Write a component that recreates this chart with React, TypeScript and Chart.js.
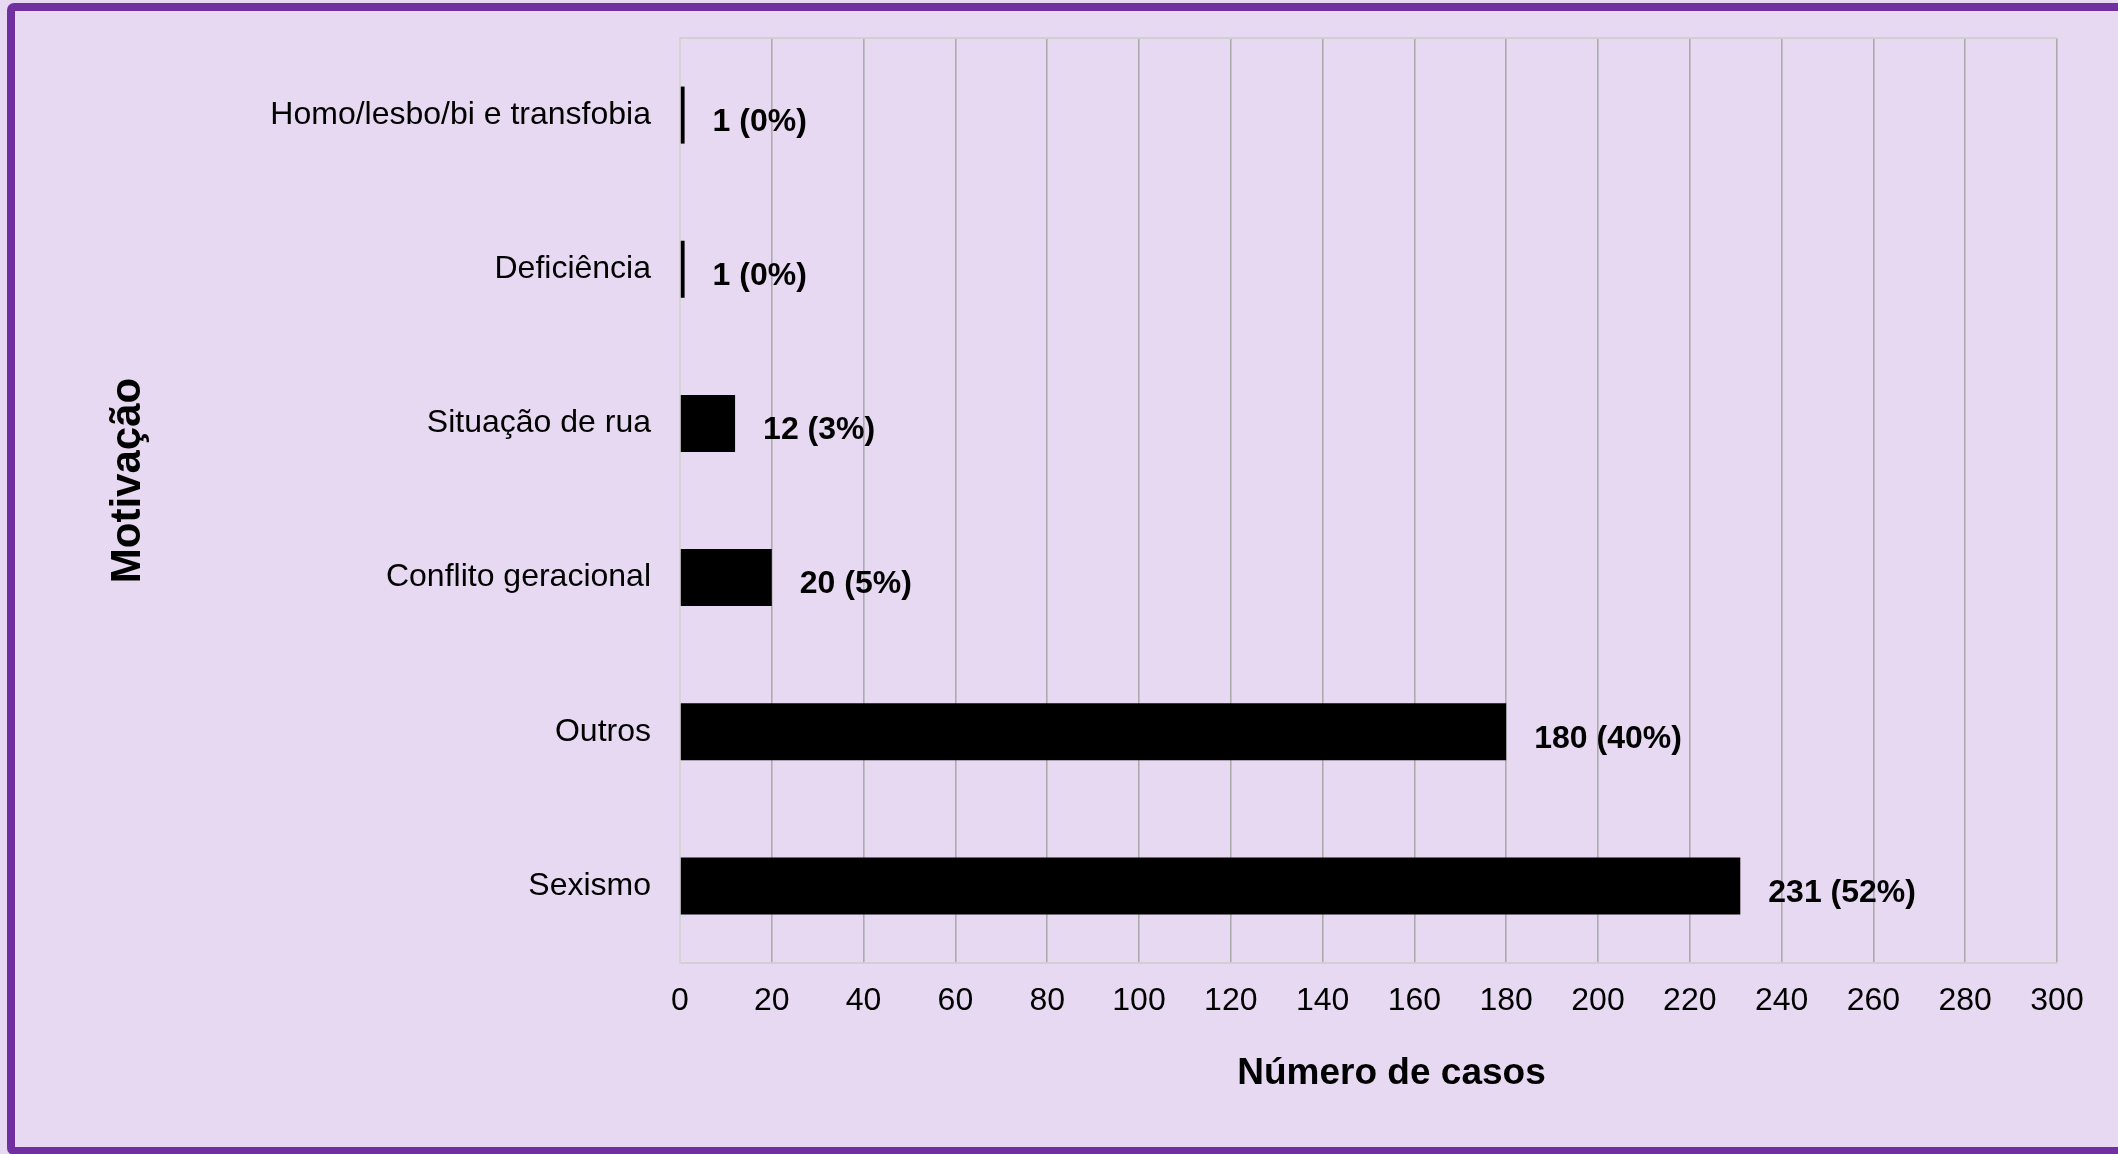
import React, { useEffect, useRef } from "react";
import { Chart, registerables } from "chart.js";

Chart.register(...registerables);

const categories = [
  "Homo/lesbo/bi e transfobia",
  "Deficiência",
  "Situação de rua",
  "Conflito geracional",
  "Outros",
  "Sexismo",
];
const caseCounts = [1, 1, 12, 20, 180, 231];
const casePercents = [0, 0, 3, 5, 40, 52];
const xTickMin = 0;
const xTickMax = 300;
const xTickStep = 20;
const yAxisTitle = "Motivação";
const xAxisTitle = "Número de casos";

const FONT = '"Liberation Sans", Arial, Helvetica, sans-serif';
const BG = "#E7D9F1";
const PURPLE = "#7030A0";
const W = 2118;
const H = 1154;

const labelsPlugin = {
  id: "customLabels",
  afterDatasetsDraw(chart: any) {
    const ctx = chart.ctx;
    const meta = chart.getDatasetMeta(0);
    ctx.save();
    ctx.font = `bold 32px ${FONT}`;
    ctx.fillStyle = "#000000";
    ctx.textAlign = "left";
    ctx.textBaseline = "middle";
    meta.data.forEach((el: any, i: number) => {
      const txt = `${caseCounts[i]} (${casePercents[i]}%)`;
      ctx.fillText(txt, el.x + 28, el.y + 7);
    });
    ctx.restore();
  },
  afterDraw(chart: any) {
    const ctx = chart.ctx;
    const a = chart.chartArea;
    ctx.save();
    // top edge of plot area
    ctx.strokeStyle = "#D0D0D0";
    ctx.lineWidth = 2;
    ctx.beginPath();
    ctx.moveTo(a.left, a.top);
    ctx.lineTo(a.right, a.top);
    ctx.stroke();
    // axis titles
    ctx.fillStyle = "#000000";
    ctx.textAlign = "center";
    ctx.textBaseline = "middle";
    ctx.font = `bold 37px ${FONT}`;
    ctx.fillText(xAxisTitle, (a.left + a.right) / 2 + 23, a.bottom + 111);
    ctx.translate(128, (a.top + a.bottom) / 2 - 20);
    ctx.rotate(-Math.PI / 2);
    ctx.font = `bold 42px ${FONT}`;
    ctx.fillText(yAxisTitle, 0, 0);
    ctx.restore();
  },
};

export default function App() {
  const canvasRef = useRef<HTMLCanvasElement | null>(null);

  useEffect(() => {
    const canvas = canvasRef.current;
    if (!canvas) return;
    const chart = new Chart(canvas, {
      type: "bar",
      data: {
        labels: categories,
        datasets: [
          {
            data: caseCounts,
            backgroundColor: "#000000",
            borderWidth: 0,
            barPercentage: 0.37,
            categoryPercentage: 1,
          },
        ],
      },
      options: {
        indexAxis: "y",
        responsive: false,
        animation: false,
        devicePixelRatio: 1,
        layout: { padding: { left: 0, top: 38, right: 61, bottom: 0 } },
        plugins: {
          legend: { display: false },
          tooltip: { enabled: false },
          title: { display: false },
        },
        scales: {
          x: {
            type: "linear",
            min: xTickMin,
            max: xTickMax,
            ticks: {
              stepSize: xTickStep,
              padding: 19,
              color: "#000000",
              font: { family: FONT, size: 32 },
              maxRotation: 0,
              autoSkip: false,
            },
            grid: {
              display: true,
              drawTicks: false,
              color: (c: any) => (c.tick && c.tick.value === 0 ? "#D4D4D4" : "#ABABAB"),
              lineWidth: 1.6,
            },
            border: { display: true, color: "#D0D0D0", width: 2 },
            afterFit: (scale: any) => {
              scale.height = 191;
            },
          },
          y: {
            ticks: {
              padding: 29,
              color: "#000000",
              font: { family: FONT, size: 32 },
              autoSkip: false,
            },
            grid: { display: false, drawTicks: false },
            border: { display: true, color: "#D4D4D4", width: 2 },
            afterFit: (scale: any) => {
              scale.width = 680;
              scale.paddingTop = 0;
              scale.paddingBottom = 0;
            },
          },
        },
      },
      plugins: [labelsPlugin],
    });
    return () => {
      chart.destroy();
    };
  }, []);

  return (
    <div
      style={{
        position: "fixed",
        left: 0,
        top: 0,
        width: W,
        height: H,
        background: BG,
        overflow: "hidden",
      }}
    >
      <div
        style={{
          position: "absolute",
          left: 7,
          top: 3,
          width: W + 20,
          height: H + 1 - 3,
          border: `8px solid ${PURPLE}`,
          borderRadius: 7,
          boxSizing: "border-box",
          background: BG,
        }}
      />
      <canvas
        ref={canvasRef}
        width={W}
        height={H}
        style={{ position: "absolute", left: 0, top: 0, width: W, height: H }}
      />
    </div>
  );
}
